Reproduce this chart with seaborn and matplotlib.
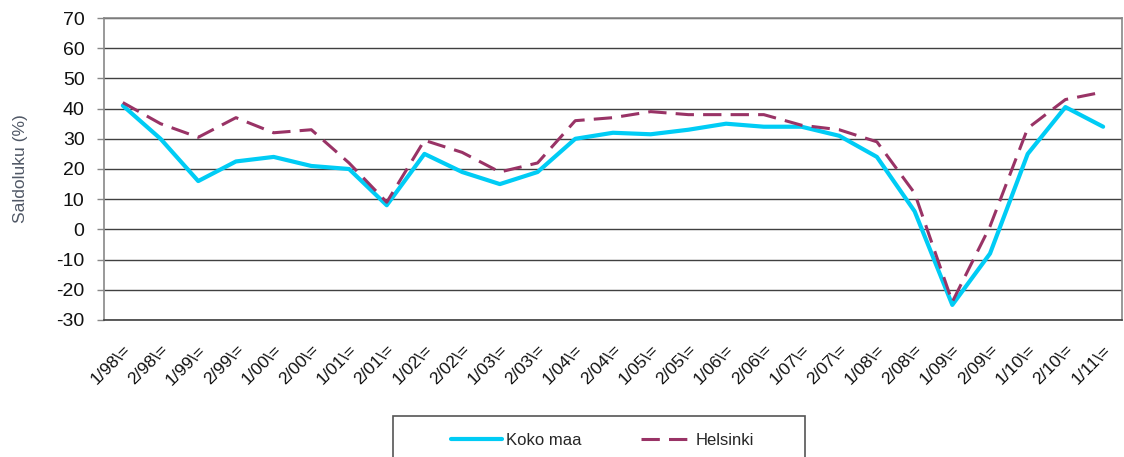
import seaborn as sns
import pandas as pd
import matplotlib.pyplot as plt
from matplotlib.patches import Rectangle
from matplotlib.ticker import MultipleLocator

# Half-year periods shown on the x axis.
periods = ["1/98", "2/98", "1/99", "2/99", "1/00", "2/00", "1/01", "2/01", "1/02",
           "2/02", "1/03", "2/03", "1/04", "2/04", "1/05", "2/05", "1/06", "2/06",
           "1/07", "2/07", "1/08", "2/08", "1/09", "2/09", "1/10", "2/10", "1/11"]
tick_labels = [p + "\\=" for p in periods]

# Balance figures (%).
koko_maa = [41, 30, 16, 22.5, 24, 21, 20, 8, 25, 19, 15, 19, 30, 32, 31.5, 33, 35, 34,
            34, 31, 24, 6, -25, -8, 25, 40.5, 34]
helsinki = [42, 35, 30.5, 37, 32, 33, 22, 9, 29.5, 25.5, 19, 22, 36, 37, 39, 38, 38, 38,
            34.5, 33, 29, 12, -24, 1, 33.5, 43, 45.5]

series_names = ["Koko maa", "Helsinki"]
series_colors = {"Koko maa": "#00CCF5", "Helsinki": "#993366"}

sns.set_theme(style="white")
plt.rcParams["font.family"] = ["Liberation Sans", "DejaVu Sans"]
plt.rcParams["axes.unicode_minus"] = False

df = pd.DataFrame({"period": tick_labels, "Koko maa": koko_maa, "Helsinki": helsinki})
dfm = df.melt(id_vars="period", var_name="sarja", value_name="saldo")

fig = plt.figure(figsize=(11.24, 4.57), dpi=100)
ax = fig.add_axes([0.0925, 0.2998, 0.9057, 0.6608])

sns.lineplot(data=dfm, x="period", y="saldo", hue="sarja", style="sarja",
             hue_order=series_names, style_order=series_names,
             palette=series_colors, dashes={"Koko maa": "", "Helsinki": (6, 3)},
             sort=False, ax=ax, legend=False)
ax.lines[0].set_linewidth(3.0)
ax.lines[1].set_linewidth(2.2)

ax.set_xlim(-0.5, len(periods) - 0.5)
ax.set_ylim(-30, 70)
ax.yaxis.set_major_locator(MultipleLocator(10))
ax.grid(axis="y", color="#404040", linewidth=1)
ax.grid(axis="x", visible=False)
ax.set_axisbelow(True)
for side in ["left", "right", "top", "bottom"]:
    ax.spines[side].set_color("#888888")
    ax.spines[side].set_linewidth(1.2)
ax.spines["bottom"].set_color("#404040")

ax.set_xlabel("")
ax.set_ylabel("Saldoluku (%)", fontsize=12.5, color="#505866", labelpad=20)
ax.tick_params(axis="y", labelsize=14, length=5, width=1, color="#888888",
               left=True, pad=9, labelcolor="#111111")
ax.tick_params(axis="x", labelsize=12.5, length=0, pad=16, labelcolor="#111111")
plt.setp(ax.get_xticklabels(), rotation=45, ha="right", rotation_mode="anchor")

# Legend box at the bottom, running past the lower edge like in the original.
fig.patches.append(Rectangle((393 / 1124, -0.05), 412 / 1124, 0.05 + 41 / 457,
                             transform=fig.transFigure, fill=False,
                             edgecolor="#555555", linewidth=1.2, figure=fig))
handles = [plt.Line2D([], [], color=series_colors["Koko maa"], linewidth=3.0),
           plt.Line2D([], [], color=series_colors["Helsinki"], linewidth=2.2,
                      dashes=(6, 3))]
fig.legend(handles, series_names, loc="center", bbox_to_anchor=(0.536, 0.037),
           ncol=2, frameon=False, handlelength=3.1, handletextpad=0.2,
           columnspacing=3.6, prop={"size": 12})

plt.savefig("out.png", dpi=100)
